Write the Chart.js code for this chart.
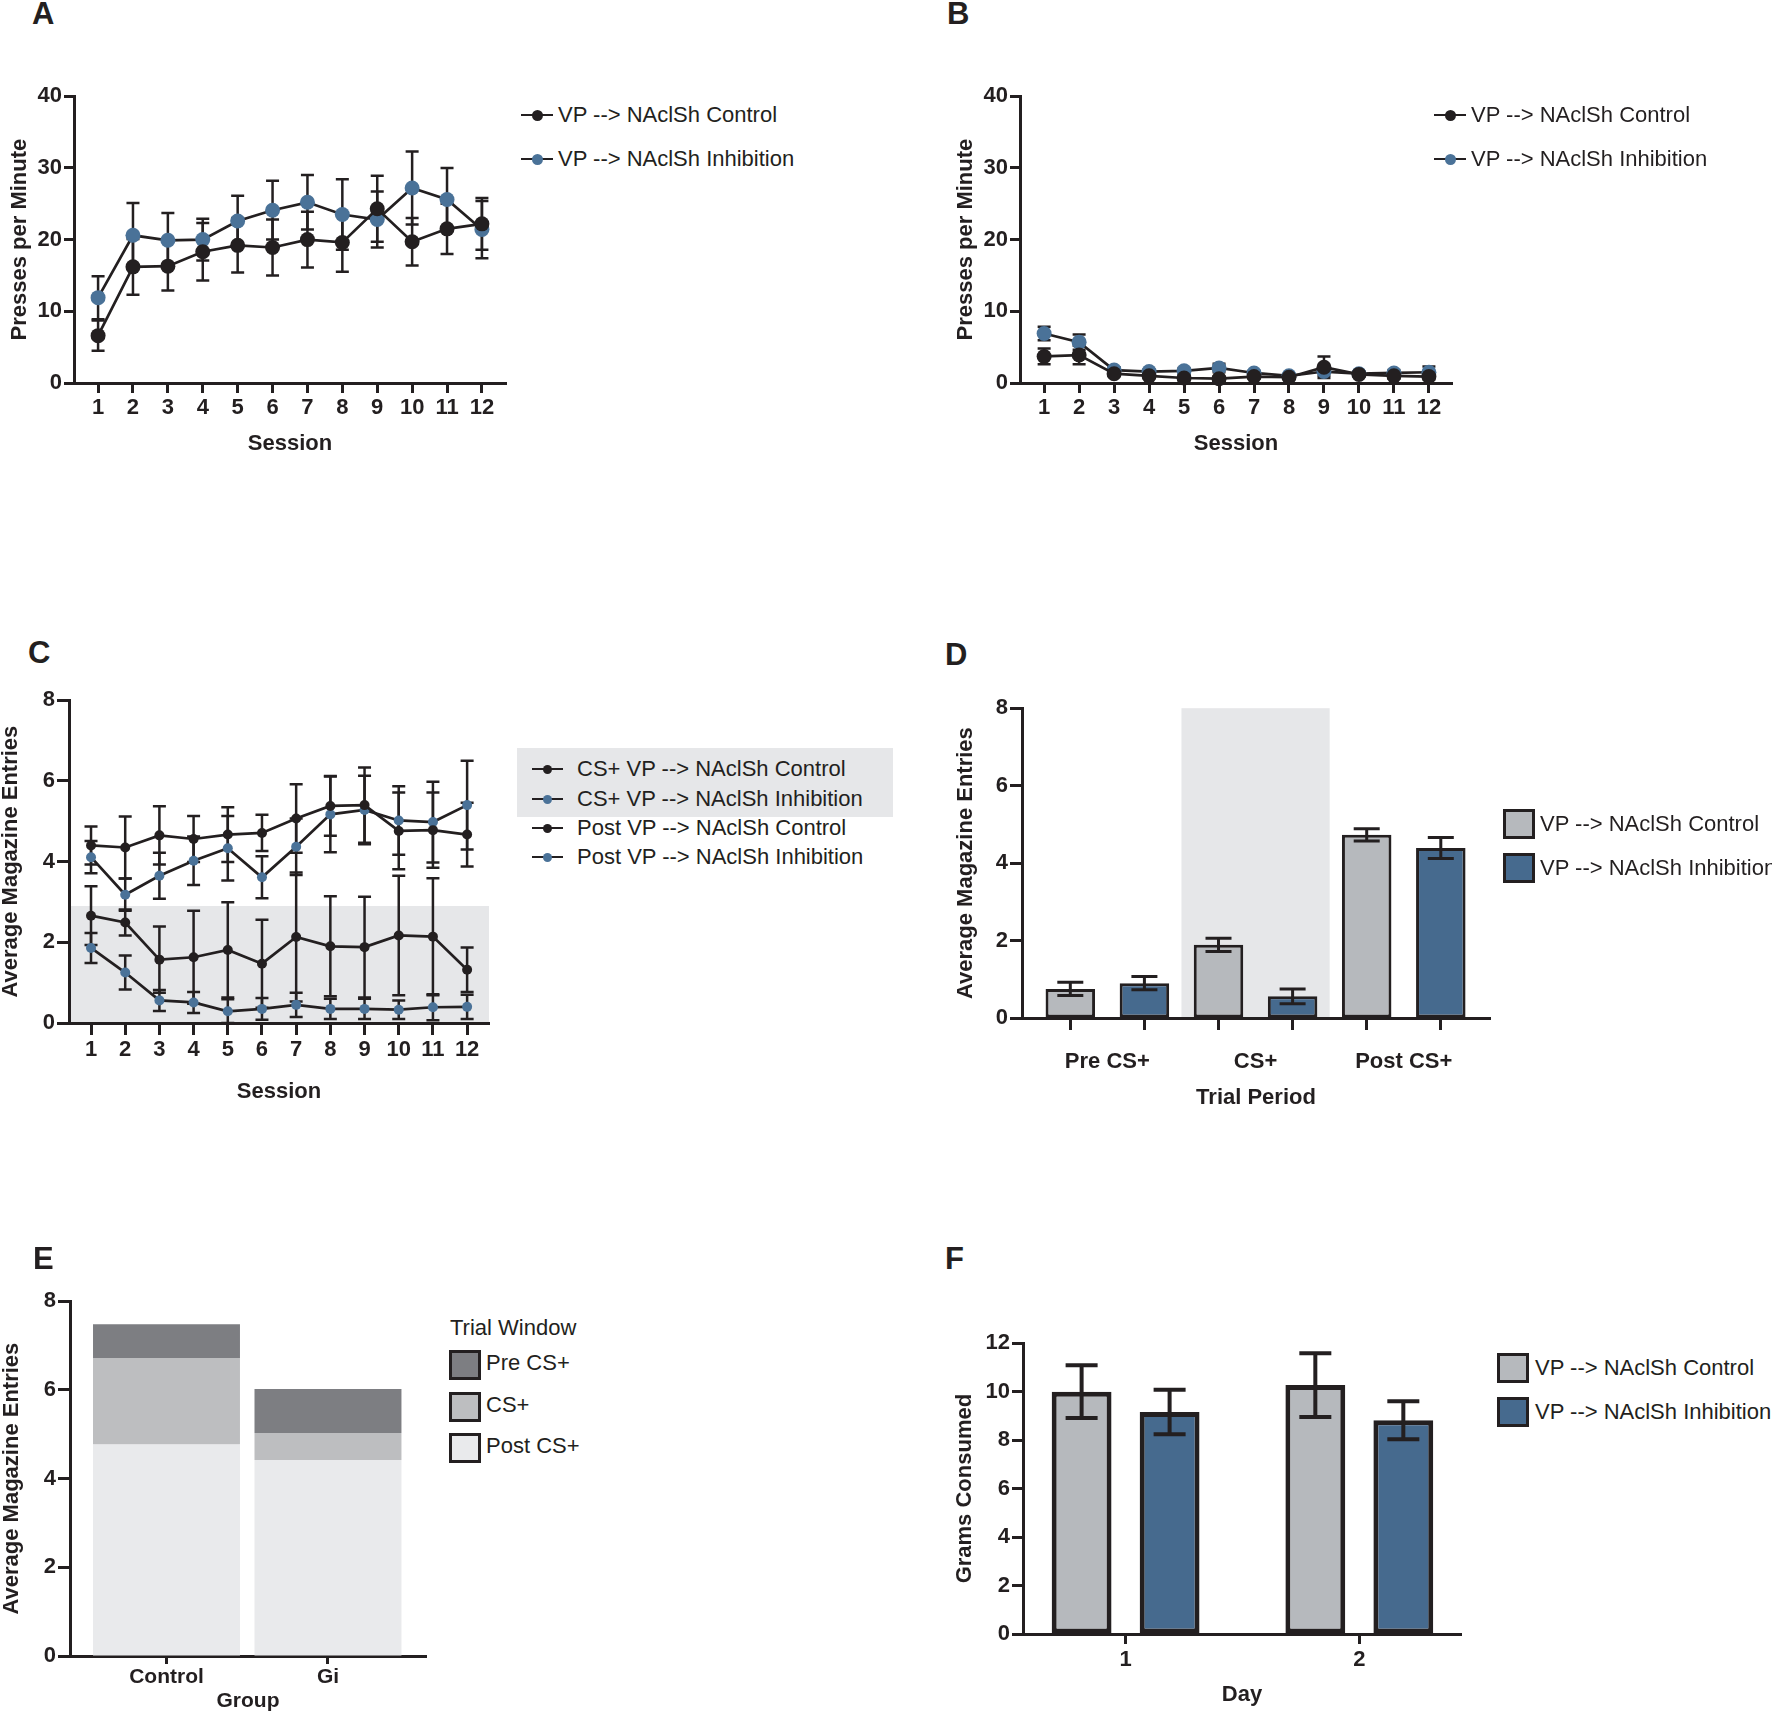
<!DOCTYPE html>
<html>
<head>
<meta charset="utf-8">
<script src="https://cdn.jsdelivr.net/npm/chart.js@4/dist/chart.umd.min.js"></script>
<style>
  html, body { margin: 0; padding: 0; background: #fff; }
  body { position: relative; width: 1772px; height: 1712px; overflow: hidden; }
  canvas { position: absolute; }
</style>
</head>
<body>
<script>
// ---- data ----
const sessions = [1, 2, 3, 4, 5, 6, 7, 8, 9, 10, 11, 12];
const groupLabels = ['VP --> NAclSh Control', 'VP --> NAclSh Inhibition'];

// A: acquisition, presses per minute
const aControl    = [6.6, 16.2, 16.3, 18.3, 19.2, 18.9, 20.0, 19.6, 24.3, 19.7, 21.5, 22.2];
const aControlErr = [2.1, 3.9, 3.4, 4.0, 3.8, 3.9, 3.9, 4.1, 4.6, 3.3, 3.5, 3.6];
const aInhib      = [11.9, 20.6, 19.9, 20.0, 22.6, 24.1, 25.2, 23.5, 22.8, 27.2, 25.6, 21.4];
const aInhibErr   = [3.0, 4.5, 3.8, 2.9, 3.5, 4.1, 3.8, 4.9, 3.9, 5.1, 4.4, 4.0];

// B: extinction, presses per minute
const bControl    = [3.7, 3.9, 1.3, 1.0, 0.7, 0.6, 0.9, 0.8, 2.2, 1.2, 1.0, 0.9];
const bControlErr = [1.1, 1.3, 0.3, 0.3, 0.3, 0.3, 0.3, 0.2, 1.5, 0.3, 0.4, 0.4];
const bInhib      = [6.9, 5.7, 1.8, 1.6, 1.7, 2.1, 1.4, 1.0, 1.6, 1.3, 1.4, 1.5];
const bInhibErr   = [0.95, 1.05, 0.4, 0.3, 0.4, 0.6, 0.3, 0.2, 0.6, 0.3, 0.4, 0.8];

// C: magazine entries by session
const cLabels = ['CS+ VP --> NAclSh Control', 'CS+ VP --> NAclSh Inhibition',
                 'Post VP --> NAclSh Control', 'Post VP --> NAclSh Inhibition'];
const csControl      = [4.40, 4.35, 4.65, 4.56, 4.67, 4.71, 5.07, 5.38, 5.40, 4.76, 4.78, 4.67];
const csControlErr   = [0.47, 0.77, 0.72, 0.57, 0.68, 0.45, 0.85, 0.74, 0.93, 0.95, 0.93, 0.79];
const csInhib        = [4.11, 3.18, 3.65, 4.02, 4.33, 3.61, 4.37, 5.17, 5.28, 5.02, 4.98, 5.40];
const csInhibErr     = [0.40, 0.40, 0.57, 0.60, 0.80, 0.52, 0.70, 0.94, 0.85, 0.85, 1.00, 1.10];
const postControl    = [2.66, 2.49, 1.57, 1.63, 1.81, 1.47, 2.13, 1.90, 1.88, 2.17, 2.14, 1.32];
const postControlErr = [0.73, 0.32, 0.82, 1.15, 1.18, 1.09, 1.60, 1.24, 1.25, 1.48, 1.45, 0.55];
const postInhib      = [1.86, 1.25, 0.56, 0.51, 0.29, 0.35, 0.45, 0.35, 0.35, 0.33, 0.39, 0.40];
const postInhibErr   = [0.37, 0.42, 0.26, 0.26, 0.30, 0.27, 0.30, 0.25, 0.25, 0.23, 0.32, 0.30];
const cBandTop = 2.9;

// D: trial period
const periods     = ['Pre CS+', 'CS+', 'Post CS+'];
const dControl    = [0.75, 1.89, 4.73];
const dControlErr = [0.17, 0.17, 0.16];
const dInhib      = [0.90, 0.56, 4.39];
const dInhibErr   = [0.17, 0.19, 0.27];
const dBandPeriod = 1;

// E: stacked trial window
const eGroups = ['Control', 'Gi'];
const windows = ['Pre CS+', 'CS+', 'Post CS+'];
const ePre  = [0.76, 0.99];
const eCS   = [1.95, 0.61];
const ePost = [4.77, 4.42];

// F: grams consumed
const days        = ['1', '2'];
const fControl    = [10.0, 10.27];
const fControlErr = [1.09, 1.32];
const fInhib      = [9.16, 8.82];
const fInhibErr   = [0.92, 0.78];

// ---- styles ----
const INK = '#231f20';
const GREY_BAR = '#b6b9bd';
const BLUE_BAR = '#466a8e';
const BLUE_DOT = '#4a7298';
const BAND = '#e6e7e9';
const E_COLORS = { pre: '#7d7e82', cs: '#bdbec0', post: '#e9eaec' };
const FONT = '"Liberation Sans", Arial, Helvetica, sans-serif';

Chart.defaults.font.family = FONT;
Chart.defaults.color = INK;
Chart.defaults.animation = false;
Chart.defaults.plugins.legend.display = false;
Chart.defaults.plugins.tooltip.enabled = false;

// error bars drawn from dataset.err
Chart.register({
  id: 'errorBars',
  defaults: { onTop: false, cap: 6.5, width: 2.5 },
  beforeDatasetsDraw(chart, args, opts) { if (!opts.onTop) drawErrors(chart, opts); },
  afterDatasetsDraw(chart, args, opts) { if (opts.onTop) drawErrors(chart, opts); }
});

function drawErrors(chart, opts) {
  const ctx = chart.ctx;
  const ys = chart.scales.y;
  ctx.save();
  ctx.strokeStyle = INK;
  ctx.lineWidth = opts.width;
  chart.data.datasets.forEach((ds, i) => {
    if (!ds.err) return;
    chart.getDatasetMeta(i).data.forEach((el, j) => {
      const v = ds.data[j].y, e = ds.err[j];
      const x = el.x;
      const hi = ys.getPixelForValue(v + e), lo = ys.getPixelForValue(Math.max(0, v - e));
      ctx.beginPath();
      ctx.moveTo(x, hi); ctx.lineTo(x, lo);
      ctx.moveTo(x - opts.cap, hi); ctx.lineTo(x + opts.cap, hi);
      ctx.moveTo(x - opts.cap, lo); ctx.lineTo(x + opts.cap, lo);
      ctx.stroke();
    });
  });
  ctx.restore();
}

// shaded bands behind everything
Chart.register({
  id: 'bands',
  defaults: { list: [] },
  beforeDraw(chart, args, opts) {
    const { ctx, chartArea: a, scales } = chart;
    opts.list.forEach(b => {
      const x0 = b.x0 === undefined ? a.left : scales.x.getPixelForValue(b.x0);
      const x1 = b.x1 === undefined ? a.right : scales.x.getPixelForValue(b.x1);
      const y0 = scales.y.getPixelForValue(b.y0);
      const y1 = scales.y.getPixelForValue(b.y1);
      ctx.save();
      ctx.fillStyle = BAND;
      ctx.fillRect(x0, y1, x1 - x0, y0 - y1);
      ctx.restore();
    });
  }
});

function makeCanvas(left, top, w, h) {
  const c = document.createElement('canvas');
  c.width = w; c.height = h;
  c.style.left = left + 'px'; c.style.top = top + 'px';
  c.style.width = w + 'px'; c.style.height = h + 'px';
  document.body.appendChild(c);
  return c;
}

function yAxis(min, max, step, title, width, tickLen) {
  return {
    min, max,
    ticks: { stepSize: step, padding: 2, font: { size: 22, weight: 'bold' }, color: INK },
    grid: { drawOnChartArea: false, tickLength: tickLen, tickWidth: 3, tickColor: INK },
    border: { width: 3, color: INK },
    title: { display: true, text: title, font: { size: 22, weight: 'bold' }, color: INK, padding: 0 },
    afterFit: s => { s.width = width; }
  };
}

function xAxis(o) {
  return {
    type: 'linear', min: o.min, max: o.max, position: 'bottom', weight: o.weight || 0, offset: false,
    afterBuildTicks: s => { s.ticks = o.at.map(v => ({ value: v })); },
    ticks: {
      display: o.labels !== null, autoSkip: false, maxRotation: 0,
      callback: (v, i) => o.labels ? o.labels[i] : '',
      padding: o.pad, font: { size: o.tickSize || 22, weight: 'bold' }, color: INK
    },
    grid: o.noGrid ? { display: false, offset: false } :
      { offset: false, drawOnChartArea: false, tickLength: o.tickLen, tickWidth: 3, tickColor: INK },
    border: o.noGrid ? { display: false } : { width: 3, color: INK },
    title: o.title ? { display: true, text: o.title, font: { size: o.titleSize, weight: 'bold' }, color: INK, padding: 0 }
                   : { display: false },
    afterFit: s => { s.height = o.height; }
  };
}

const pts = (xs, ys) => ys.map((y, i) => ({ x: xs[i], y }));

function lineSet(label, ys, err, color, r) {
  return {
    label, data: pts(sessions, ys), err,
    borderColor: INK, borderWidth: 2.7, tension: 0, clip: false,
    pointRadius: r, pointHoverRadius: r, pointBackgroundColor: color, pointBorderWidth: 0
  };
}

function sessionChart(left, top, w, h, cfg) {
  return new Chart(makeCanvas(left, top, w, h), {
    type: 'line',
    data: { datasets: cfg.datasets },
    options: {
      responsive: false,
      layout: { padding: { top: 15, right: 14, left: 0, bottom: 0 } },
      scales: {
        x: xAxis({ min: cfg.xmin, max: cfg.xmax, at: sessions, labels: sessions.map(String),
                   pad: 2, tickLen: cfg.tickLen, title: 'Session', titleSize: 22, height: cfg.xH }),
        y: yAxis(0, cfg.ymax, cfg.step, cfg.ytitle, cfg.yW, cfg.tickLen)
      },
      plugins: { errorBars: { cap: 6.5, width: 2.5 }, bands: { list: cfg.bands || [] } }
    }
  });
}

// A
sessionChart(7, 81, 513, 376, {
  xmin: 0.31, xmax: 12.69, ymax: 40, step: 10, ytitle: 'Presses per Minute', yW: 67, xH: 74, tickLen: 10,
  datasets: [lineSet(groupLabels[0], aControl, aControlErr, INK, 7.5),
             lineSet(groupLabels[1], aInhib, aInhibErr, BLUE_DOT, 7.5)]
});

// B
sessionChart(953, 81, 513, 376, {
  xmin: 0.31, xmax: 12.66, ymax: 40, step: 10, ytitle: 'Presses per Minute', yW: 67, xH: 74, tickLen: 10,
  datasets: [lineSet(groupLabels[0], bControl, bControlErr, INK, 7.5),
             lineSet(groupLabels[1], bInhib, bInhibErr, BLUE_DOT, 7.5)]
});

// C
sessionChart(-2, 685, 505, 420, {
  xmin: 0.356, xmax: 12.64, ymax: 8, step: 2, ytitle: 'Average Magazine Entries', yW: 71, xH: 82, tickLen: 12,
  bands: [{ y0: 0, y1: cBandTop }],
  datasets: [lineSet(cLabels[0], csControl, csControlErr, INK, 5),
             lineSet(cLabels[1], csInhib, csInhibErr, BLUE_DOT, 5),
             lineSet(cLabels[2], postControl, postControlErr, INK, 5),
             lineSet(cLabels[3], postInhib, postInhibErr, BLUE_DOT, 5)]
});

// D
const dPos = periods.map((p, i) => 2 * i + 1);
new Chart(makeCanvas(953, 693, 551, 418), {
  type: 'bar',
  data: {
    datasets: [
      { label: groupLabels[0], data: pts(dPos, dControl), err: dControlErr,
        backgroundColor: GREY_BAR, borderColor: INK, borderWidth: 3, borderSkipped: false },
      { label: groupLabels[1], data: pts(dPos.map(v => v + 1), dInhib), err: dInhibErr,
        backgroundColor: BLUE_BAR, borderColor: INK, borderWidth: 3, borderSkipped: false }
    ]
  },
  options: {
    responsive: false,
    layout: { padding: { top: 15, right: 14, left: 0, bottom: 0 } },
    datasets: { bar: { grouped: false, barPercentage: 0.668, categoryPercentage: 1 } },
    scales: {
      x: xAxis({ min: 0.348, max: 6.664, at: [1, 2, 3, 4, 5, 6], labels: null, pad: 0, tickLen: 12, height: 10 }),
      x2: xAxis({ min: 0.348, max: 6.664, at: dPos.map(v => v + 0.5), labels: periods, pad: 13, tickSize: 22,
                  noGrid: true, title: 'Trial Period', titleSize: 22, height: 83, weight: 1 }),
      y: yAxis(0, 8, 2, 'Average Magazine Entries', 69, 12)
    },
    plugins: {
      errorBars: { onTop: true, cap: 13, width: 3 },
      bands: { list: [{ x0: dPos[dBandPeriod] - 0.5, x1: dPos[dBandPeriod] + 1.5, y0: 0, y1: 8 }] }
    }
  }
});

// E
new Chart(makeCanvas(-1, 1286, 441, 428), {
  type: 'bar',
  data: {
    datasets: [
      { label: windows[2], data: pts([1, 2], ePost), backgroundColor: E_COLORS.post },
      { label: windows[1], data: pts([1, 2], eCS), backgroundColor: E_COLORS.cs },
      { label: windows[0], data: pts([1, 2], ePre), backgroundColor: E_COLORS.pre }
    ]
  },
  options: {
    responsive: false,
    layout: { padding: { top: 15, right: 14, left: 0, bottom: 0 } },
    datasets: { bar: { barPercentage: 0.91, categoryPercentage: 1, borderWidth: 0 } },
    scales: {
      x: Object.assign(xAxis({ min: 0.4025, max: 2.607, at: [1, 2], labels: eGroups, pad: 1, tickLen: 8,
                               tickSize: 21, title: 'Group', titleSize: 21, height: 58 }), { stacked: true }),
      y: Object.assign(yAxis(0, 8, 2, 'Average Magazine Entries', 71, 12), { stacked: true })
    }
  }
});

// F
new Chart(makeCanvas(952, 1328, 523, 380), {
  type: 'bar',
  data: {
    datasets: [
      { label: groupLabels[0], data: pts([1, 2], fControl), err: fControlErr,
        backgroundColor: GREY_BAR, borderColor: INK, borderWidth: 5, borderSkipped: false },
      { label: groupLabels[1], data: pts([1, 2], fInhib), err: fInhibErr,
        backgroundColor: BLUE_BAR, borderColor: INK, borderWidth: 5, borderSkipped: false }
    ]
  },
  options: {
    responsive: false,
    layout: { padding: { top: 15, right: 14, left: 0, bottom: 0 } },
    datasets: { bar: { barPercentage: 0.68, categoryPercentage: 0.753 } },
    scales: {
      x: xAxis({ min: 0.561, max: 2.435, at: [1, 2], labels: days, pad: 3, tickLen: 10,
                 title: 'Day', titleSize: 22, height: 74 }),
      y: yAxis(0, 12, 2, 'Grams Consumed', 71, 11)
    },
    plugins: { errorBars: { onTop: true, cap: 16, width: 4 } }
  }
});

// ---- HTML legends and panel letters ----
function addText(text, x, cy, size, weight) {
  const d = document.createElement('div');
  d.textContent = text;
  d.style.cssText = 'position:absolute;white-space:nowrap;color:' + INK + ';font:' + weight + ' ' + size + 'px ' + FONT +
    ';left:' + x + 'px;top:' + (cy - size) + 'px;height:' + (2 * size) + 'px;line-height:' + (2 * size) + 'px';
  document.body.appendChild(d);
}
function addBox(x, y, w, h, css) {
  const d = document.createElement('div');
  d.style.cssText = 'position:absolute;box-sizing:border-box;left:' + x + 'px;top:' + y + 'px;width:' + w + 'px;height:' + h + 'px;' + css;
  document.body.appendChild(d);
}
function lineKey(x, cy, w, r, color) {
  addBox(x, cy - 1.2, w, 2.4, 'background:' + INK);
  addBox(x + w / 2 - r, cy - r, 2 * r, 2 * r, 'border-radius:50%;background:' + color);
}
function boxKey(x, cy, w, h, fill) {
  addBox(x, cy - h / 2, w, h, 'border:3px solid ' + INK + ';background:' + fill);
}

// A, B legends
[[521, 558], [1434, 1471]].forEach(([kx, tx]) => {
  [115, 159].forEach((cy, i) => {
    lineKey(kx, cy, 32, 5.5, i ? BLUE_DOT : INK);
    addText(groupLabels[i], tx, cy, 22, 'normal');
  });
});

// C legend
addBox(517, 748, 376, 69, 'background:' + BAND);
[769, 799, 828, 857].forEach((cy, i) => {
  lineKey(532, cy, 31, 4.5, i % 2 ? BLUE_DOT : INK);
  addText(cLabels[i], 577, cy, 22, 'normal');
});

// D legend
[824, 868].forEach((cy, i) => {
  boxKey(1503, cy, 32, 30, i ? BLUE_BAR : GREY_BAR);
  addText(groupLabels[i], 1540, cy, 22, 'normal');
});

// E legend
addText('Trial Window', 450, 1328, 22, 'normal');
[[windows[0], E_COLORS.pre], [windows[1], E_COLORS.cs], [windows[2], E_COLORS.post]].forEach(([t, c], i) => {
  const cy = [1365, 1407, 1448][i];
  boxKey(449, cy, 32, 30, c);
  addText(t, 486, cy - 2, 22, 'normal');
});

// F legend
[1368, 1412].forEach((cy, i) => {
  boxKey(1497, cy, 32, 30, i ? BLUE_BAR : GREY_BAR);
  addText(groupLabels[i], 1535, cy, 22, 'normal');
});

// panel letters
[['A', 32, 14], ['B', 947, 14], ['C', 28, 653], ['D', 945, 655], ['E', 33, 1259], ['F', 945, 1259]]
  .forEach(([t, x, cy]) => addText(t, x, cy, 31, 'bold'));
</script>
</body>
</html>
